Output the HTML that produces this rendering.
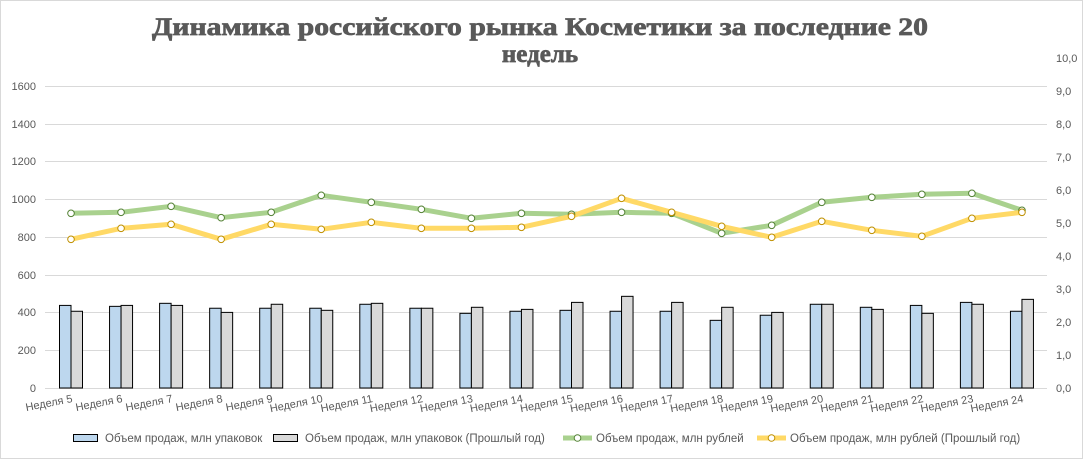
<!DOCTYPE html>
<html><head><meta charset="utf-8"><style>
html,body{margin:0;padding:0;background:#fff;}
svg{display:block;font-family:"Liberation Sans",sans-serif;}
</style></head><body>
<svg width="1083" height="459" viewBox="0 0 1083 459" xmlns="http://www.w3.org/2000/svg">
<rect x="0.5" y="0.5" width="1082" height="458" fill="#fff" stroke="#d9d9d9"/>
<g font-family="Liberation Serif,serif" font-weight="bold" font-size="25" fill="#595959" stroke="#595959" stroke-width="0.7">
<text x="540" y="35" text-anchor="middle" textLength="776" lengthAdjust="spacingAndGlyphs">Динамика российского рынка Косметики за последние 20</text>
<text x="540" y="62" text-anchor="middle">недель</text>
</g>
<g stroke="#d9d9d9" stroke-width="1">
<line x1="45" x2="1047" y1="388.5" y2="388.5"/>
<line x1="45" x2="1047" y1="350.5" y2="350.5"/>
<line x1="45" x2="1047" y1="312.5" y2="312.5"/>
<line x1="45" x2="1047" y1="275.5" y2="275.5"/>
<line x1="45" x2="1047" y1="237.5" y2="237.5"/>
<line x1="45" x2="1047" y1="199.5" y2="199.5"/>
<line x1="45" x2="1047" y1="161.5" y2="161.5"/>
<line x1="45" x2="1047" y1="124.5" y2="124.5"/>
<line x1="45" x2="1047" y1="86.5" y2="86.5"/>
</g>
<g font-size="11" fill="#595959" text-anchor="end">
<text x="36" y="392">0</text><text x="36" y="354">200</text><text x="36" y="316">400</text><text x="36" y="279">600</text><text x="36" y="241">800</text><text x="36" y="203">1000</text><text x="36" y="165">1200</text><text x="36" y="128">1400</text><text x="36" y="90">1600</text>
</g>
<g font-size="11" fill="#595959" text-anchor="start">
<text x="1056" y="392">0,0</text><text x="1056" y="359">1,0</text><text x="1056" y="326">2,0</text><text x="1056" y="293">3,0</text><text x="1056" y="260">4,0</text><text x="1056" y="227">5,0</text><text x="1056" y="194">6,0</text><text x="1056" y="161">7,0</text><text x="1056" y="128">8,0</text><text x="1056" y="95">9,0</text><text x="1056" y="62">10,0</text>
</g>
<g id="bars" stroke="#000" stroke-width="1"></g>
<polyline id="gl" fill="none" stroke="#a9d18e" stroke-width="5" stroke-linejoin="round"/>
<polyline id="yl" fill="none" stroke="#ffd966" stroke-width="5" stroke-linejoin="round"/>
<g id="marks"></g>
<g id="xl" font-size="11" fill="#595959" text-anchor="end"></g>
<g font-size="11.5" fill="#595959">
<rect x="73.5" y="434.5" width="24" height="7" fill="#bdd7ee" stroke="#000"/>
<text x="105" y="442">Объем продаж, млн упаковок</text>
<rect x="273.5" y="434.5" width="24" height="7" fill="#d9d9d9" stroke="#000"/>
<text x="305" y="442">Объем продаж, млн упаковок (Прошлый год)</text>
<line x1="563" x2="592" y1="438" y2="438" stroke="#a9d18e" stroke-width="5"/>
<circle cx="577.5" cy="438" r="3.3" fill="#fff" stroke="#548235"/>
<text x="596" y="442">Объем продаж, млн рублей</text>
<line x1="757" x2="786" y1="438" y2="438" stroke="#ffd966" stroke-width="5"/>
<circle cx="771.5" cy="438" r="3.3" fill="#fff" stroke="#bf9000"/>
<text x="790" y="442">Объем продаж, млн рублей (Прошлый год)</text>
</g>
<script>
var b=[437,432,448,422,422,422,443,422,395,406,411,406,406,358,385,443,427,437,453,406];
var g=[406,437,437,400,443,411,448,422,427,416,453,485,453,427,400,443,416,395,443,469];
var gy=[213.3,212.3,206.3,217.7,212.3,195.3,202.3,209.3,218.3,213.3,214.3,212.3,213.3,233.3,225.3,202.3,197.3,194.3,193.3,210.3];
var yy=[239.3,228.3,224.3,239.3,224.3,229.3,222.3,228.3,228.3,227.3,216.3,198.3,212.3,226.3,237.3,221.3,230.3,236.3,218.3,212.3];
var ns="http://www.w3.org/2000/svg",bars=document.getElementById('bars'),mk=document.getElementById('marks'),xl=document.getElementById('xl');
var gp=[],yp=[];
function el(t,a,p){var e=document.createElementNS(ns,t);for(var k in a)e.setAttribute(k,a[k]);p.appendChild(e);return e;}
for(var i=0;i<20;i++){var c=71+50.05*i;
var h1=b[i]*37.8/200,h2=g[i]*37.8/200;
el('rect',{x:c-11.5,y:388-h1,width:11.5,height:h1,fill:'#bdd7ee'},bars);
el('rect',{x:c,y:388-h2,width:11.5,height:h2,fill:'#d9d9d9'},bars);
gp.push(c+','+gy[i]);yp.push(c+','+yy[i]);
var t=el('text',{x:0,y:0,transform:'translate('+(c+2)+',402) rotate(-11)'},xl);t.textContent='Неделя '+(i+5);}
document.getElementById('gl').setAttribute('points',gp.join(' '));
document.getElementById('yl').setAttribute('points',yp.join(' '));
for(var i=0;i<20;i++){var c=71+50.05*i;
el('circle',{cx:c,cy:gy[i],r:3.3,fill:'#fff',stroke:'#548235'},mk);
el('circle',{cx:c,cy:yy[i],r:3.3,fill:'#fff',stroke:'#bf9000'},mk);}
</script>
</svg>
</body></html>
